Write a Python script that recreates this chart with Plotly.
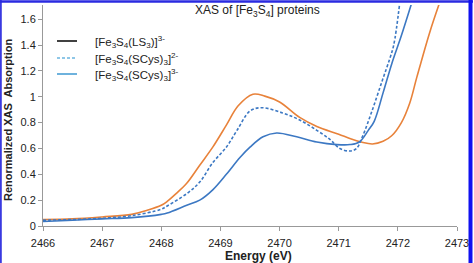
import plotly.graph_objects as go

# Orange solid curve
e_orange = [2466, 2466.5, 2467, 2467.5, 2467.75, 2468, 2468.1, 2468.25, 2468.43, 2468.65,
            2468.87, 2469.1, 2469.3, 2469.55, 2469.75, 2470, 2470.34, 2470.63, 2471, 2471.2,
            2471.38, 2471.57, 2471.75, 2471.9, 2472.06, 2472.2, 2472.32, 2472.54, 2472.7]
a_orange = [0.05, 0.055, 0.07, 0.09, 0.12, 0.16, 0.19, 0.25, 0.33, 0.47,
            0.61, 0.78, 0.93, 1.02, 1.005, 0.96, 0.84, 0.77, 0.71, 0.675,
            0.65, 0.635, 0.655, 0.7, 0.8, 0.95, 1.15, 1.5, 1.72]

# Blue solid curve
e_blue = [2466, 2466.5, 2467, 2467.5, 2468, 2468.1, 2468.43, 2468.65, 2468.87, 2469.1,
          2469.33, 2469.5, 2469.72, 2469.95, 2470.29, 2470.63, 2470.97, 2471.19, 2471.35,
          2471.5, 2471.6, 2471.75, 2471.9, 2472.05, 2472.23]
a_blue = [0.035, 0.045, 0.055, 0.065, 0.09, 0.1, 0.16, 0.2, 0.28, 0.4,
          0.53, 0.61, 0.69, 0.72, 0.69, 0.65, 0.63, 0.63, 0.65,
          0.74, 0.81, 1.03, 1.26, 1.46, 1.72]

# Blue dashed curve
e_dash = [2466, 2466.5, 2467, 2467.5, 2468, 2468.1, 2468.43, 2468.65, 2468.87, 2469.1,
          2469.28, 2469.5, 2469.7, 2470.05, 2470.34, 2470.63, 2470.85, 2471.02, 2471.19,
          2471.3, 2471.4, 2471.57, 2471.74, 2471.86, 2471.93, 2472.03]
a_dash = [0.045, 0.05, 0.06, 0.08, 0.13, 0.155, 0.25, 0.34, 0.49, 0.61,
          0.74, 0.89, 0.915, 0.875, 0.82, 0.74, 0.67, 0.6, 0.58,
          0.6, 0.69, 0.9, 1.13, 1.29, 1.4, 1.72]

legend_labels = ["[Fe<sub>3</sub>S<sub>4</sub>(LS<sub>3</sub>)]<sup>3-</sup>",
                 "[Fe<sub>3</sub>S<sub>4</sub>(SCys)<sub>3</sub>]<sup>2-</sup>",
                 "[Fe<sub>3</sub>S<sub>4</sub>(SCys)<sub>3</sub>]<sup>3-</sup>"]
legend_colors = ["#111111", "#6BB5E0", "#4A9FD5"]
legend_dashes = ["solid", "3px,2px", "solid"]

FONT = "Arial, Liberation Sans, sans-serif"
fig = go.Figure()

fig.add_trace(go.Scatter(x=e_orange, y=a_orange, mode="lines", line=dict(color="#E8823A", width=1.6, shape="spline"), showlegend=False))
fig.add_trace(go.Scatter(x=e_dash, y=a_dash, mode="lines", line=dict(color="#3C78C3", width=1.6, dash="3px,2px", shape="spline"), showlegend=False))
fig.add_trace(go.Scatter(x=e_blue, y=a_blue, mode="lines", line=dict(color="#3C78C3", width=1.6, shape="spline"), showlegend=False))

L, R, T, B = 43, 17, 5, 37
W, H = 474, 263
pw, ph = W - L - R, H - T - B

def px(x):
    return (x - L) / pw

def py(y):
    return (H - B - y) / ph

annotations = [
    dict(text="XAS of [Fe<sub>3</sub>S<sub>4</sub>] proteins", x=px(257), y=py(11),
         font=dict(size=12, color="#222222")),
    dict(text="<b>Energy (eV)</b>", x=px(258), y=py(256),
         font=dict(size=12, color="#222222")),
    dict(text="<b>Renormalized XAS  Absorption</b>", x=px(8), y=py(120), textangle=-90,
         font=dict(size=11, color="#222222")),
]
for a in annotations:
    a.update(xref="paper", yref="paper", showarrow=False, xanchor="center", yanchor="middle")

shapes = [
    dict(type="line", xref="paper", yref="paper", x0=px(0.8), x1=px(0.8), y0=py(0), y1=py(270),
         line=dict(color="#3a3ae0", width=2)),
    dict(type="line", xref="paper", yref="paper", x0=px(0), x1=px(473), y0=py(1.5), y1=py(1.5),
         line=dict(color="#2a2ae0", width=2.5)),
    dict(type="line", xref="paper", yref="paper", x0=px(470.5), x1=px(470.5), y0=py(0), y1=py(270),
         line=dict(color="#1010f0", width=4)),
]

# legend drawn as in the original figure
leg_y = [41, 58, 74]
for lab, col, dsh, yy in zip(legend_labels, legend_colors, legend_dashes, leg_y):
    shapes.append(dict(type="line", xref="paper", yref="paper", x0=px(57), x1=px(77),
                       y0=py(yy), y1=py(yy), line=dict(color=col, width=1.6, dash=dsh)))
    annotations.append(dict(text=lab, x=px(93), y=py(yy + 1), xref="paper", yref="paper",
                            showarrow=False, xanchor="left", yanchor="middle",
                            font=dict(size=11.5, color="#222222")))

fig.update_layout(
    width=W, height=H,
    margin=dict(l=L, r=R, t=T, b=B),
    paper_bgcolor="white", plot_bgcolor="white",
    font=dict(family=FONT, size=11, color="#222222"),
    showlegend=False,
    xaxis=dict(range=[2466, 2473], dtick=1, showgrid=False, zeroline=False,
               showline=True, linecolor="#999999", linewidth=1,
               ticks="outside", ticklen=4, tickcolor="#999999", ticklabelstandoff=3,
               tickfont=dict(size=11, color="#222222")),
    yaxis=dict(range=[0, 1.71], tickvals=[0, 0.2, 0.4, 0.6, 0.8, 1, 1.2, 1.4, 1.6],
               showgrid=False, zeroline=False,
               showline=True, linecolor="#999999", linewidth=1,
               ticks="outside", ticklen=4, tickcolor="#999999",
               tickfont=dict(size=11, color="#222222")),
    annotations=annotations,
    shapes=shapes,
)

fig.write_html("out.html")
